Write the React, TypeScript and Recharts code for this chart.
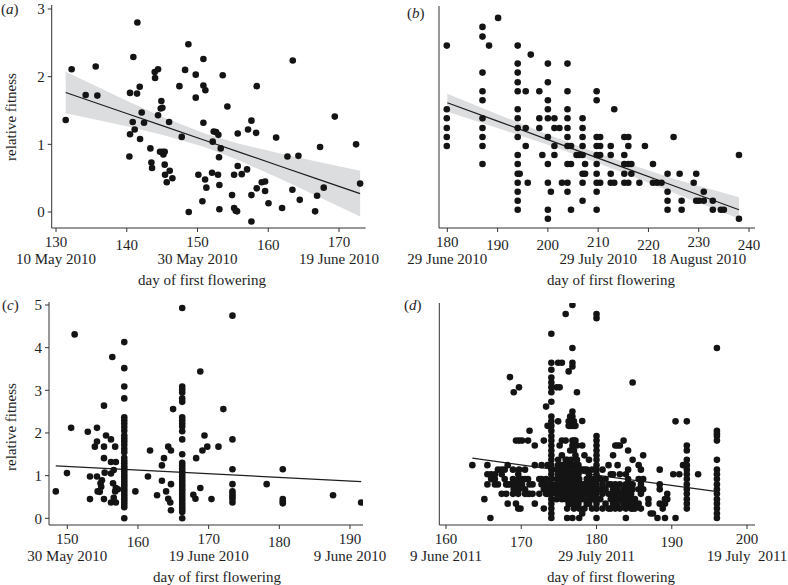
import React from 'react';
import { ComposedChart, Scatter, Line, Area, XAxis, YAxis } from 'recharts';

const FONT = '"Liberation Serif", "DejaVu Serif", serif';
const INK = '#1e1e1e';
const DOT = '#141414';
const AXIS = '#333';

// (a) day of first flowering vs relative fitness
const aPoints: [number, number][] = [
  [131.37, 1.36], [132.21, 2.11], [134.19, 1.73], [135.61, 2.15], [135.84, 1.72], [141.5, 2.8], [140.93, 2.29],
  [140.46, 1.76], [141.45, 1.75], [141.83, 1.85], [140.46, 1.15], [140.84, 1.33], [141.12, 1.22], [141.88, 1.08],
  [142.11, 1.47], [142.44, 1.32], [140.37, 0.82], [143.34, 0.94], [143.48, 0.73], [143.57, 0.65], [143.95, 2.07],
  [144.0, 1.98], [144.42, 2.11], [144.42, 1.43], [144.8, 1.53], [144.89, 1.64], [145.03, 1.54], [144.7, 0.89],
  [145.08, 0.89], [145.17, 0.85], [145.36, 0.89], [145.36, 0.7], [145.41, 0.55], [145.65, 0.44], [146.07, 0.61],
  [145.98, 1.33], [146.45, 0.5], [147.44, 1.86], [147.77, 1.11], [148.24, 2.1], [148.71, 2.48], [148.76, 0.0],
  [149.75, 2.03], [149.75, 1.69], [150.12, 0.55], [150.69, 0.16], [150.83, 2.26], [150.83, 1.87], [151.11, 1.8],
  [150.83, 1.32], [151.07, 0.48], [151.25, 0.36], [152.05, 0.58], [152.15, 1.04], [152.29, 1.19], [152.62, 1.18],
  [152.9, 0.55], [152.95, 1.14], [153.04, 0.81], [153.09, 0.4], [153.09, 0.04], [153.28, 0.94], [153.56, 2.02],
  [154.22, 1.56], [154.88, 0.25], [155.17, 0.06], [155.17, 0.55], [155.4, 0.02], [155.59, 0.01], [155.68, 0.68],
  [155.68, 1.16], [156.25, 0.56], [157.0, 0.63], [157.14, 1.22], [157.62, 1.35], [157.62, 0.25], [157.62, -0.14],
  [158.28, 1.17], [158.37, 1.86], [158.37, 0.35], [159.08, 0.44], [159.55, 0.45], [159.55, 0.31], [160.03, 0.13],
  [161.11, 1.1], [161.95, 0.06], [162.71, 0.82], [163.41, 0.33], [163.46, 2.24], [164.26, 0.83], [164.45, 0.18],
  [166.62, 0.01], [166.9, 0.24], [167.32, 0.96], [167.84, 0.36], [169.4, 1.41], [172.41, 1.0], [172.98, 0.42],
];
const aFitDays = [131.37, 140, 145, 151, 156, 162, 167, 172.98];
const aFitValues = [1.766, 1.456, 1.276, 1.061, 0.881, 0.666, 0.486, 0.271];
const aBandLow = [1.461, 1.266, 1.143, 0.961, 0.757, 0.476, 0.23, -0.067];
const aBandHigh = [2.071, 1.646, 1.409, 1.161, 1.005, 0.856, 0.742, 0.609];
const aTicksX = [130, 140, 150, 160, 170];
const aTicksY = [0, 1, 2, 3];
const aDates: Record<number, string> = { 130: '10 May 2010', 150: '30 May 2010', 170: '19 June 2010' };

// (b)
const bColumns: [number, number[]][] = [
  [179.9, [1.05, 1.18, 1.31, 1.45, 1.58, 2.5]],
  [187.0, [0.79, 1.05, 1.18, 1.31, 1.45, 1.71, 1.84, 2.11, 2.63, 2.77]],
  [188.3, [2.5]],
  [190.1, [2.9]],
  [194.0, [0.13, 0.26, 0.39, 0.52, 0.65, 0.79, 0.92, 1.18, 1.31, 1.45, 1.58, 1.84, 1.97, 2.11, 2.24, 2.5]],
  [194.4, [0.65]],
  [195.6, [1.05, 1.31, 1.84]],
  [196.0, [0.52]],
  [196.6, [2.37]],
  [198.3, [1.31, 1.45, 1.84]],
  [198.9, [0.92]],
  [200.0, [0, 0.13, 0.52, 0.79, 1.18, 1.45, 1.58, 1.71, 1.97, 2.24]],
  [200.6, [0.39]],
  [201.3, [0.92, 1.05, 1.31, 1.45]],
  [202.3, [1.31]],
  [202.8, [0.52]],
  [203.9, [0.39, 0.52, 0.79, 1.05, 1.18, 1.31, 1.45, 1.58, 1.84, 2.24]],
  [204.6, [0.13, 0.79, 1.05]],
  [205.7, [0.92]],
  [206.2, [0.92]],
  [206.9, [0.26, 0.52, 0.65, 0.92, 1.05, 1.18, 1.31, 1.45]],
  [207.4, [0.65, 0.79]],
  [209.7, [0.13, 0.39, 0.52, 0.65, 0.79, 0.92, 1.05, 1.18, 1.71, 1.84]],
  [210.4, [0.52, 0.92, 1.05, 1.18]],
  [212.5, [0.52, 0.65, 0.92, 1.05]],
  [213.2, [0.52, 1.58]],
  [215.2, [0.52, 0.65, 0.79, 0.92, 1.18]],
  [216.0, [0.52, 0.79, 1.05, 1.18]],
  [216.6, [0.65, 0.79]],
  [218.2, [0.52]],
  [219.3, [1.05]],
  [220.9, [0.52, 0.79]],
  [221.7, [0.52]],
  [222.6, [0.52]],
  [223.8, [0.13, 0.26, 0.39, 0.65]],
  [225.0, [1.18]],
  [226.2, [0.65]],
  [226.6, [0.13, 0.26]],
  [229.0, [0.52]],
  [229.5, [0.26, 0.65]],
  [230.1, [0.26]],
  [231.0, [0.26, 0.39]],
  [232.8, [0.13, 0.26]],
  [234.4, [0.13]],
  [235.0, [0.13]],
  [238.0, [0, 0.92]],
];
const bFitDays = [180, 190, 200, 207, 215, 225, 238];
const bFitValues = [1.675, 1.41, 1.142, 0.955, 0.742, 0.476, 0.13];
const bBandLow = [1.545, 1.31, 1.067, 0.885, 0.665, 0.375, 0.0];
const bBandHigh = [1.805, 1.51, 1.218, 1.025, 0.82, 0.577, 0.31];
const bTicksX = [180, 190, 200, 210, 220, 230, 240];
const bTicksY = [0, 1, 2, 3];
const bDates: Record<number, string> = { 180: '29 June 2010', 210: '29 July 2010', 230: '18 August 2010' };

// (c)
const cPoints: [number, number][] = [
  [148.37, 0.63], [149.95, 1.06], [150.54, 2.12], [151.04, 4.31], [152.9, 2.03], [153.21, 0.98], [153.21, 0.45],
  [153.9, 1.68], [154.2, 1.8], [154.2, 2.12], [154.2, 0.98], [154.3, 0.63], [154.6, 0.62], [154.7, 0.82],
  [154.8, 0.74], [154.9, 0.89], [155.19, 2.64], [155.19, 1.68], [155.19, 1.41], [155.29, 1.07], [155.19, 0.45],
  [155.48, 1.94], [156.18, 1.85], [156.18, 1.32], [156.18, 1.05], [156.18, 0.37], [156.37, 3.78], [156.57, 1.13],
  [156.47, 0.82], [156.57, 0.48], [156.77, 1.68], [156.87, 1.32], [156.87, 0.71], [156.77, 0.63], [156.87, 0.37],
  [157.16, 0.68], [159.63, 0.63], [161.41, 0.98], [161.71, 1.59], [162.7, 0.54], [163.39, 1.24], [163.39, 0.88],
  [163.68, 1.41], [163.98, 0.63], [164.28, 1.68], [164.28, 0.46], [164.57, 0.37], [164.67, 1.59], [164.67, 0.8],
  [164.67, 0.19], [164.97, 2.56], [167.83, 0.55], [168.13, 0.46], [168.23, 1.41], [168.82, 3.44], [168.82, 0.71],
  [169.12, 1.59], [169.41, 1.94], [169.81, 1.68], [170.4, 0.45], [171.39, 1.68], [172.08, 2.56], [178.21, 0.8],
  [187.6, 0.54], [191.58, 0.37],
];
const cColumns: [number, number[]][] = [
  [158.06, [4.13, 3.52, 3.09, 2.81, 2.37, 2.3, 2.22, 2.14, 2.05, 1.94, 1.87, 1.8, 1.72, 1.63, 1.55, 1.42, 1.35,
    1.29, 1.22, 1.16, 1.1, 1.04, 0.98, 0.92, 0.86, 0.8, 0.74, 0.68, 0.62, 0.56, 0.5, 0.44, 0.38, 0.32, 0.26, 0]],
  [166.26, [4.93, 3.09, 3.02, 2.95, 2.81, 2.73, 2.37, 2.3, 2.22, 2.15, 2.04, 1.85, 1.5, 1.3, 1.24, 1.17, 1.1,
    1.04, 0.98, 0.92, 0.86, 0.8, 0.74, 0.68, 0.62, 0.56, 0.5, 0.44, 0.38, 0.32, 0.26, 0.2, 0.15, 0]],
  [173.37, [4.75, 1.85, 1.15, 0.8, 0.63, 0.57, 0.51, 0.45, 0.37]],
  [180.49, [1.15, 0.45, 0.4, 0.35]],
];
const cFitDays = [148.37, 191.58];
const cFitValues = [1.23, 0.86];
const cTicksX = [150, 160, 170, 180, 190];
const cTicksY = [0, 1, 2, 3, 4, 5];
const cDates: Record<number, string> = { 150: '30 May 2010', 170: '19 June 2010', 190: '9 June 2010' };

// (d)
const dColumns: [number, number[]][] = [
  [163.5, [1.29]], [165.1, [0.46]], [165.5, [1.29, 1.07, 0.82]], [165.9, [0]], [166.0, [1.07, 0.95]],
  [166.5, [1.07, 0.95, 0.82]], [166.9, [1.18, 0.82]], [167.4, [1.18, 1.07, 0.59]], [167.8, [1.18, 0.95]],
  [168.0, [0.82, 0.59]], [168.2, [1.29, 0.82, 0.35]], [168.5, [3.44, 0.82]], [168.9, [1.18, 0.95, 0.82, 0.59]],
  [169.0, [3.07, 0.82, 0.7]], [169.3, [1.89, 0.82, 0.35]], [169.6, [1.07, 0.82, 0.59, 0.23]],
  [169.7, [3.19, 1.89, 1.18, 0.95, 0.82, 0.7]], [169.9, [0.23]], [170.1, [1.89, 0.95, 0.82]],
  [170.5, [1.18, 0.95, 0.7, 0.59]], [170.9, [1.89, 0.95, 0.59]], [171.1, [2.13, 0.82, 0.59]], [171.5, [0.82, 0.59]],
  [171.8, [1.77, 1.29, 0.35]], [172.4, [0.59, 0.95]], [172.7, [1.29, 0.95, 0.82]], [173.0, [1.89, 0.82, 0.7, 0.23]],
  [173.3, [2.72, 0.95, 0.7, 0.59]], [173.5, [2.25, 1.29, 0.82, 0.59]],
  [174.0, [4.5, 3.79, 3.62, 3.43, 3.31, 3.19, 3.07, 2.84, 2.48, 2.36, 2.25, 2.13, 2.0, 1.89, 1.77, 1.65, 1.53,
    1.42, 1.29, 1.18, 1.07, 0.95, 0.82, 0.7, 0.59, 0.46, 0.35, 0.23, 0.11, 0]],
  [174.7, [3.19, 1.18, 0.95, 0.82, 0.7, 0.59, 0.46]], [174.9, [3.79, 2.36, 1.42, 1.29, 1.07]],
  [175.1, [3.19, 1.77, 1.18, 0.82, 0.59]], [175.4, [3.79, 1.89, 1.53, 1.29, 1.18, 1.07, 0.95, 0.7, 0.59, 0.46]],
  [175.7, [1.29, 1.18, 1.07, 0.95, 0.82, 0.7, 0.59]],
  [175.9, [4.98, 1.89, 1.42, 1.29, 1.18, 1.07, 0.82, 0.7, 0.46]],
  [176.1, [1.42, 1.29, 1.18, 1.07, 0.95, 0.82, 0.59, 0.23, 0]],
  [176.3, [3.58, 2.36, 2.25, 1.18, 1.07, 0.95, 0.82, 0.7, 0.59, 0.46, 0.35]],
  [176.5, [2.48, 2.25, 1.65, 1.29, 1.18, 1.07, 0.95, 0.82, 0.7, 0.59]],
  [176.6, [1.42, 0.46, 0.35]],
  [176.8, [5.2, 4.15, 3.79, 3.7, 2.6, 2.48, 2.36, 2.25, 1.89, 1.77, 1.29, 1.18, 1.07, 0.95, 0.82, 0.7, 0.59, 0.46,
    0.35, 0]],
  [177.0, [2.36, 2.25, 1.89, 1.77, 1.65, 1.18, 1.07, 0.95, 0.82, 0.59, 0.46, 0.23]],
  [177.1, [1.29, 0.7, 0.35]],
  [177.2, [2.25, 1.89, 1.53, 1.18, 1.07, 0.82, 0.7, 0.59, 0.46]],
  [177.4, [3.07, 1.77, 1.42, 1.18, 1.07, 0.95, 0.82, 0.7, 0.59, 0.35]],
  [177.6, [1.29, 1.18, 1.07, 0.35]],
  [177.7, [0.95, 0.82, 0.7, 0.59, 0.46, 0.23, 0]], [178.1, [2.37, 1.77, 1.18, 0.82, 0.7, 0.59, 0.46, 0.11]],
  [178.4, [1.53, 1.18, 0.82, 0.59, 0.23]], [178.7, [1.18, 0.95, 0.7, 0.59, 0.35]], [178.9, [0.95, 0.7, 0.46]],
  [179.0, [1.42, 1.07, 0.82, 0.59, 0.35]], [179.4, [1.18, 0.95, 0.82, 0.59, 0.46, 0.23]], [179.6, [0.95, 0.7, 0.46]],
  [180.0, [4.98, 4.88, 2.0, 1.89, 1.77, 1.65, 1.53, 1.42, 1.29, 1.18, 1.07, 0.95, 0.82, 0.7, 0.59, 0.46, 0.35,
    0.23, 0]],
  [180.5, [0.95, 0.7, 0.46]], [180.8, [1.18, 0.82, 0.59, 0.23]], [181.2, [0.95, 0.7, 0.35]],
  [181.6, [1.29, 0.82, 0.59, 0.23]], [181.9, [1.07, 0.82, 0.46, 0.23]], [182.2, [1.53, 1.07, 0.7, 0.59, 0.35]],
  [182.5, [1.77, 0.82, 0.46, 0.23]], [182.8, [1.77, 1.29, 0.7, 0.59, 0.35]],
  [183.1, [1.77, 1.07, 0.82, 0.59, 0.46, 0.23]], [183.6, [1.89, 0.7, 0.59, 0.46, 0.35]],
  [183.9, [1.07, 0.82, 0.59, 0.23, 0]], [184.2, [1.65, 1.18, 0.95, 0.7, 0.46, 0.35]],
  [184.6, [0.82, 0.59, 0.46, 0.23]], [184.8, [3.31, 1.42, 0.82, 0.7, 0.35, 0.23]], [185.1, [0.46, 0.35, 0.23]],
  [185.6, [1.29, 0.95, 0.7, 0.35]], [185.9, [1.18, 0.82, 0.59, 0.23]], [186.2, [1.53, 0.95, 0.7]],
  [186.9, [0.46, 0.35]], [187.2, [0.11]], [187.5, [0.11]], [188.1, [0]], [188.4, [1.18, 0.82, 0.7, 0.35]],
  [188.8, [0.23]], [189.1, [0, 0.35, 0.46]], [189.4, [0.59, 0.46]], [190.2, [1.07]], [190.5, [0, 2.36]],
  [191.0, [1.07]], [191.5, [1.29]],
  [192.0, [2.36, 1.77, 1.65, 1.42, 1.29, 1.18, 1.07, 0.95, 0.82, 0.7, 0.59, 0.46, 0.35, 0.23]],
  [193.5, [1.07]],
  [196.0, [4.15, 2.13, 2.06, 2.0, 1.89, 1.42, 1.18, 1.07, 0.95, 0.82, 0.7, 0.59, 0.46, 0.35, 0.23, 0.11, 0]],
];
const dFitDays = [163.5, 195.8];
const dFitValues = [1.46, 0.65];
const dTicksX = [160, 170, 180, 190, 200];
const dTicksY = [0, 1, 2, 3, 4, 5];
const dDates: Record<number, string> = { 160: '9 June 2011', 180: '29 July 2011', 200: '19 July  2011' };

const fromPairs = (pairs: [number, number][]) => pairs.map(([x, y]) => ({ x, y }));
const fromColumns = (cols: [number, number[]][]) => cols.flatMap(([x, ys]) => ys.map((y) => ({ x, y })));
const fitRows = (days: number[], vals: number[], lo?: number[], hi?: number[]) =>
  days.map((x, i) => ({ x, fit: vals[i], band: lo && hi ? [lo[i], hi[i]] : undefined }));

interface Geo {
  left: number; top: number; width: number; height: number;
  plotLeft: number; plotTop: number; plotRight: number; plotBottom: number;
  xDomain: [number, number]; yDomain: [number, number];
  lowTicks: number[];
}

interface PanelProps {
  geo: Geo;
  points: { x: number; y: number }[];
  fit: { x: number; fit: number; band?: number[] }[];
  xTicks: number[];
  yTicks: number[];
  dates: Record<number, string>;
  yLabels: boolean;
  band: boolean;
}

const Dot = (p: any) => <circle cx={p.cx} cy={p.cy} r={3.3} fill={DOT} />;

const Panel: React.FC<PanelProps> = ({ geo, points, fit, xTicks, yTicks, dates, yLabels, band }) => {
  const xTick = (props: any) => {
    const { x, y, payload } = props;
    const v = payload.value;
    const dy = geo.lowTicks.includes(v) ? 16 : 13;
    return (
      <g>
        <text x={x} y={y + dy} textAnchor="middle" fontSize={15} fontFamily={FONT} fill={INK}>{v}</text>
        {dates[v] && (
          <text x={x} y={y + 30} textAnchor="middle" fontSize={15} fontFamily={FONT} fill={INK} style={{ whiteSpace: 'pre' }}>
            {dates[v]}
          </text>
        )}
      </g>
    );
  };
  return (
    <div style={{ position: 'absolute', left: geo.left, top: geo.top }}>
      <ComposedChart
        width={geo.width}
        height={geo.height}
        data={fit}
        margin={{ top: geo.plotTop, right: geo.width - geo.plotRight, bottom: 0, left: 0 }}
      >
        <XAxis
          dataKey="x"
          type="number"
          domain={geo.xDomain}
          ticks={xTicks}
          interval={0}
          allowDataOverflow
          height={geo.height - geo.plotBottom}
          tick={xTick}
          tickSize={4}
          tickMargin={2}
          stroke={AXIS}
        />
        <YAxis
          type="number"
          domain={geo.yDomain}
          ticks={yTicks}
          interval={0}
          allowDataOverflow
          width={geo.plotLeft}
          tick={yLabels ? { fontSize: 15, fontFamily: FONT, fill: INK } : false}
          tickSize={4}
          tickMargin={3}
          stroke={AXIS}
        />
        {band && <Area type="linear" dataKey="band" stroke="none" fill="#dcdddf" fillOpacity={1} isAnimationActive={false} />}
        <Scatter data={points} dataKey="y" shape={Dot} isAnimationActive={false} />
        <Line type="linear" dataKey="fit" stroke={INK} strokeWidth={1.2} dot={false} isAnimationActive={false} />
      </ComposedChart>
    </div>
  );
};

const geoA: Geo = { left: 0, top: 0, width: 394, height: 290, plotLeft: 51.7, plotTop: 5, plotRight: 365.7, plotBottom: 228,
  xDomain: [129.39, 173.77], yDomain: [-0.236, 3.059], lowTicks: [140, 160] };
const geoB: Geo = { left: 394, top: 0, width: 394, height: 290, plotLeft: 45, plotTop: 6, plotRight: 361, plotBottom: 228,
  xDomain: [178.35, 241.19], yDomain: [-0.134, 3.072], lowTicks: [190, 200, 220, 240] };
const geoC: Geo = { left: 0, top: 290, width: 394, height: 295, plotLeft: 49, plotTop: 12, plotRight: 363, plotBottom: 235,
  xDomain: [147.41, 191.84], yDomain: [-0.157, 5.07], lowTicks: [160, 180] };
const geoD: Geo = { left: 394, top: 290, width: 394, height: 295, plotLeft: 45.3, plotTop: 13, plotRight: 361, plotBottom: 235,
  xDomain: [159.11, 201.06], yDomain: [-0.171, 5.25], lowTicks: [170, 190] };

const txt = { fontFamily: FONT, fontSize: 15, fill: INK } as const;

const Letter = ({ x, y, l }: { x: number; y: number; l: string }) => (
  <text x={x} y={y} dominantBaseline="central" {...txt}>
    (<tspan fontStyle="italic">{l}</tspan>)
  </text>
);

export default function App() {
  return (
    <div style={{ position: 'absolute', left: 0, top: 0, width: 788, height: 585, background: '#fff' }}>
      <Panel geo={geoA} points={fromPairs(aPoints)} fit={fitRows(aFitDays, aFitValues, aBandLow, aBandHigh)}
        xTicks={aTicksX} yTicks={aTicksY} dates={aDates} yLabels band />
      <Panel geo={geoB} points={fromColumns(bColumns)} fit={fitRows(bFitDays, bFitValues, bBandLow, bBandHigh)}
        xTicks={bTicksX} yTicks={bTicksY} dates={bDates} yLabels={false} band />
      <Panel geo={geoC} points={[...fromPairs(cPoints), ...fromColumns(cColumns)]} fit={fitRows(cFitDays, cFitValues)}
        xTicks={cTicksX} yTicks={cTicksY} dates={cDates} yLabels band={false} />
      <Panel geo={geoD} points={fromColumns(dColumns)} fit={fitRows(dFitDays, dFitValues)}
        xTicks={dTicksX} yTicks={dTicksY} dates={dDates} yLabels={false} band={false} />
      <svg width={788} height={585} style={{ position: 'absolute', left: 0, top: 0, pointerEvents: 'none' }}>
        <Letter x={1} y={9} l="a" />
        <Letter x={407} y={13} l="b" />
        <Letter x={2} y={305} l="c" />
        <Letter x={404} y={305} l="d" />
        <text transform="translate(11,117) rotate(-90)" textAnchor="middle" dominantBaseline="central" {...txt}>relative fitness</text>
        <text transform="translate(11,427) rotate(-90)" textAnchor="middle" dominantBaseline="central" {...txt}>relative fitness</text>
        <text x={202} y={280} textAnchor="middle" dominantBaseline="central" {...txt}>day of first flowering</text>
        <text x={611} y={280} textAnchor="middle" dominantBaseline="central" {...txt}>day of first flowering</text>
        <text x={217} y={577} textAnchor="middle" dominantBaseline="central" {...txt}>day of first flowering</text>
        <text x={611} y={577} textAnchor="middle" dominantBaseline="central" {...txt}>day of first flowering</text>
      </svg>
    </div>
  );
}
